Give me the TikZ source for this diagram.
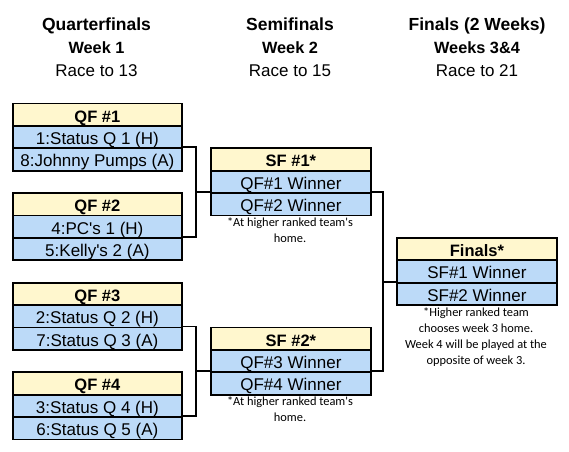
\documentclass[tikz,border=0pt]{standalone}
\usepackage{fontspec}
\setmainfont{Liberation Sans}
\newfontfamily\notefont{Carlito}
\definecolor{hdrfill}{RGB}{255,247,206}
\definecolor{rowfill}{RGB}{188,218,248}
\tikzset{
  cell/.style={draw, line width=1.8pt, inner sep=0pt, text height=18.7pt, text depth=3.7pt,
    anchor=north west, font=\fontsize{17}{20}\selectfont},
  hcell/.style={cell, fill=hdrfill, font=\fontsize{16.5}{20}\selectfont\bfseries},
  tcell/.style={cell, fill=rowfill},
  qfw/.style={minimum width=169pt},
  sfw/.style={minimum width=160pt},
  conn/.style={line width=1.8pt},
  note/.style={font=\notefont\fontsize{12.4}{16}\selectfont, align=center, inner sep=0pt, anchor=base},
  ttl/.style={font=\fontsize{17.5}{20}\selectfont\bfseries, anchor=base, inner sep=0pt},
  wk/.style={font=\fontsize{16.3}{20}\selectfont\bfseries, anchor=base, inner sep=0pt},
  race/.style={font=\fontsize{17}{20}\selectfont, anchor=base, inner sep=0pt}
}
\begin{document}
\begin{tikzpicture}[x=1pt,y=-1pt]
\fill[white] (0,0) rectangle (569,451);
\useasboundingbox (0,0) rectangle (569,451);

% column titles
\node[ttl] (t1) at (96.5,30) {Quarterfinals};
\node[wk] (w1) at (96.5,53) {Week 1};
\node[race] (r1) at (96.5,76) {Race to 13};
\node[ttl] (t2) at (290,30) {Semifinals};
\node[wk] (w2) at (290,53) {Week 2};
\node[race] (r2) at (290,76) {Race to 15};
\node[ttl] (t3) at (477,30) {Finals (2 Weeks)};
\node[wk] (w3) at (477,53) {Weeks 3\&4};
\node[race] (r3) at (477,76) {Race to 21};

% quarterfinals
\node[hcell,qfw] (qf1h) at (12,102.5) {QF \#1};
\node[tcell,qfw] (qf1a) at (12,124.9) {1:Status Q 1 (H)};
\node[tcell,qfw] (qf1b) at (12,147.3) {8:Johnny Pumps (A)};

\node[hcell,qfw] (qf2h) at (12,192.1) {QF \#2};
\node[tcell,qfw] (qf2a) at (12,214.5) {4:PC\textquotesingle s 1 (H)};
\node[tcell,qfw] (qf2b) at (12,236.9) {5:Kelly\textquotesingle s 2 (A)};

\node[hcell,qfw] (qf3h) at (12,281.7) {QF \#3};
\node[tcell,qfw] (qf3a) at (12,304.1) {2:Status Q 2 (H)};
\node[tcell,qfw] (qf3b) at (12,326.5) {7:Status Q 3 (A)};

\node[hcell,qfw] (qf4h) at (12,371.3) {QF \#4};
\node[tcell,qfw] (qf4a) at (12,393.7) {3:Status Q 4 (H)};
\node[tcell,qfw] (qf4b) at (12,416.1) {6:Status Q 5 (A)};

% semifinals
\node[hcell,sfw] (sf1h) at (210,147.3) {SF \#1*};
\node[tcell,sfw] (sf1a) at (210,169.7) {QF\#1 Winner};
\node[tcell,sfw] (sf1b) at (210,192.1) {QF\#2 Winner};
\node[note] (n1) at (290,242.5) {*At higher ranked team\textquotesingle s\\home.};

\node[hcell,sfw] (sf2h) at (210,326.5) {SF \#2*};
\node[tcell,sfw] (sf2a) at (210,348.9) {QF\#3 Winner};
\node[tcell,sfw] (sf2b) at (210,371.3) {QF\#4 Winner};
\node[note] (n2) at (290,421.7) {*At higher ranked team\textquotesingle s\\home.};

% finals
\node[hcell,sfw] (finh) at (396,236.9) {Finals*};
\node[tcell,sfw] (fina) at (396,259.3) {SF\#1 Winner};
\node[tcell,sfw] (finb) at (396,281.7) {SF\#2 Winner};
\node[note] (n3) at (476,364) {*Higher ranked team\\chooses week 3 home.\\Week 4 will be played at the\\opposite of week 3.};

% bracket connectors
\coordinate (v1) at (196,0);
\coordinate (v2) at (383,0);
\draw[conn] (qf1b.north east) -- (qf1b.north east -| v1) -- (qf2b.north east -| v1) -- (qf2b.north east);
\draw[conn] (sf1b.north west -| v1) -- (sf1b.north west);
\draw[conn] (qf3b.north east) -- (qf3b.north east -| v1) -- (qf4b.north east -| v1) -- (qf4b.north east);
\draw[conn] (sf2b.north west -| v1) -- (sf2b.north west);
\draw[conn] (sf1b.north east) -- (sf1b.north east -| v2) -- (sf2b.north east -| v2) -- (sf2b.north east);
\draw[conn] (finb.north west -| v2) -- (finb.north west);
\end{tikzpicture}
\end{document}
